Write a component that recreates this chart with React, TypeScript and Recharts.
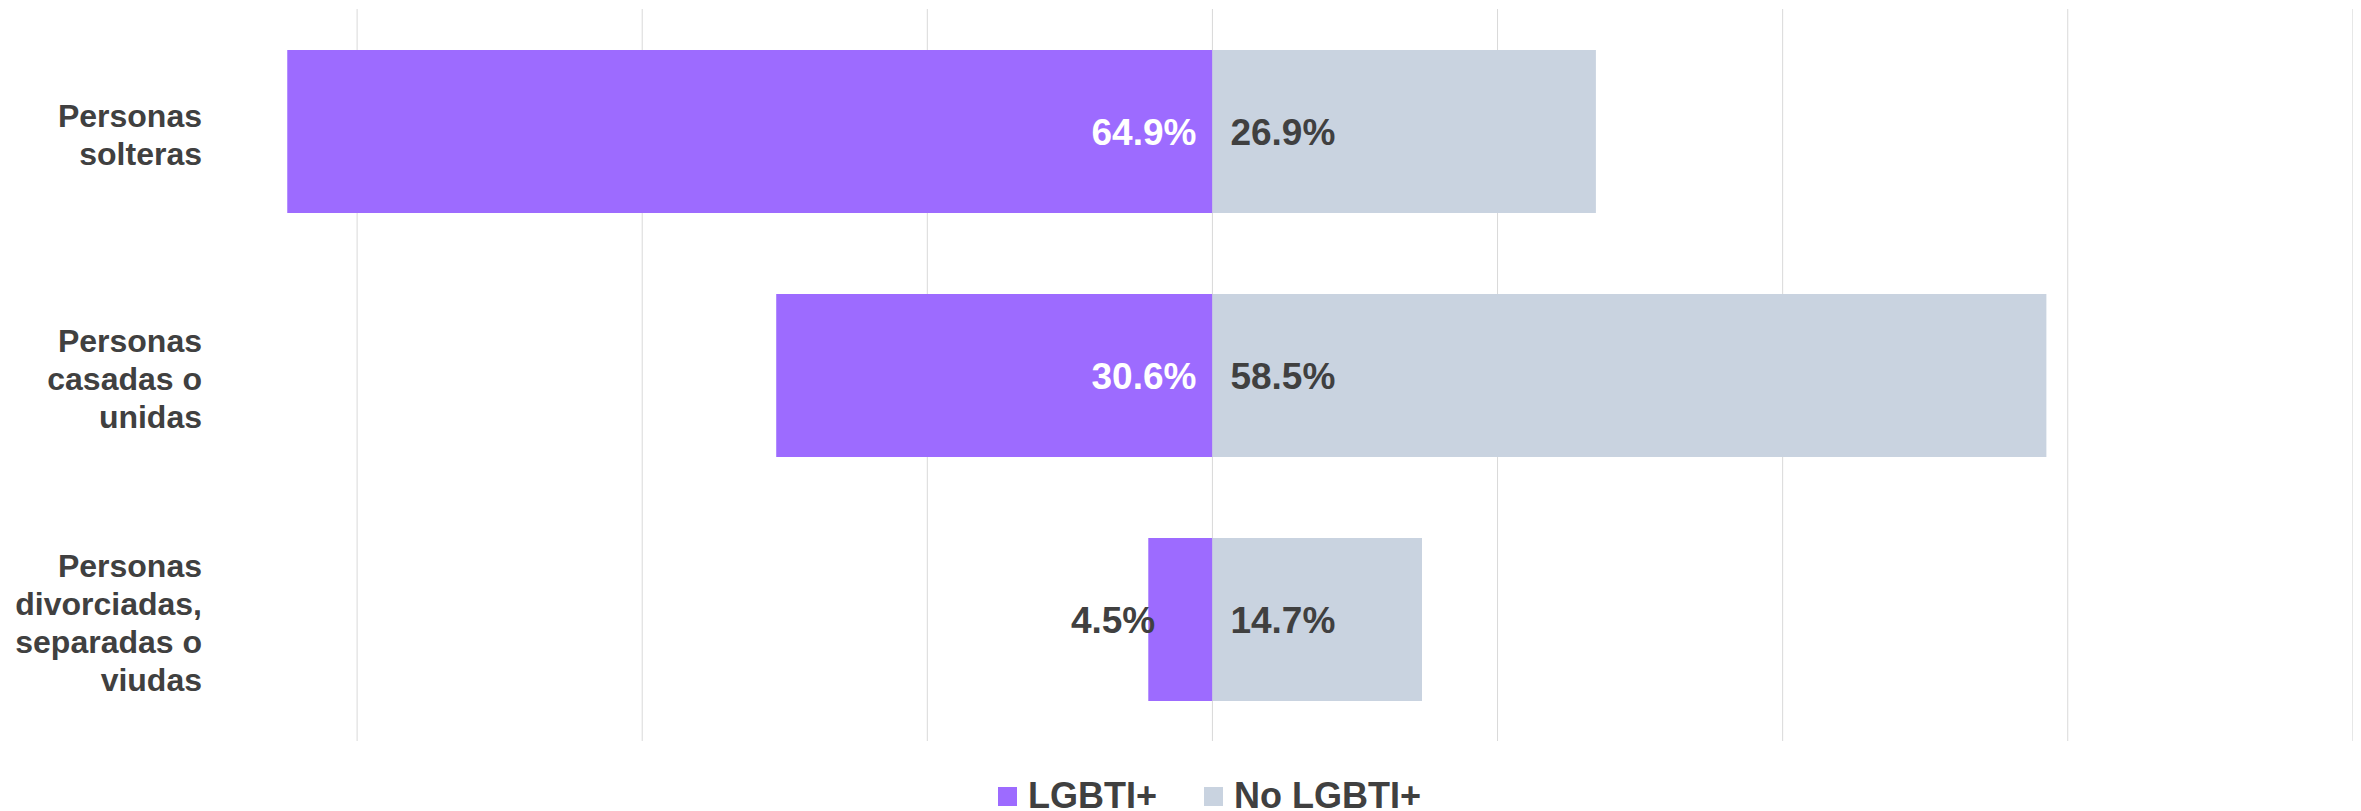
import { Bar, BarChart, CartesianGrid, LabelList, Legend, XAxis, YAxis } from 'recharts'

const categories = ['Personas\nsolteras', 'Personas\ncasadas o\nunidas', 'Personas\ndivorciadas,\nseparadas o\nviudas']
const lgbti = [64.9, 30.6, 4.5]
const noLgbti = [26.9, 58.5, 14.7]
const xTicks = [-60, -40, -20, 0, 20, 40, 60, 80]

const PURPLE = '#9D6BFF'
const GREY = '#C9D3E0'
const TEXT = '#404040'
const FONT = '"Liberation Sans", Arial, sans-serif'

// LGBTI+ goes to the left of zero, so store it negative in the table
const data = categories.map((name, i) => ({ name, lgbti: -lgbti[i], noLgbti: noLgbti[i] }))

const CategoryTick = (props: any) => {
  const { x, y, payload } = props
  const lines = String(payload.value).split('\n')
  const first = y - (lines.length - 1) * 19 + 15
  return (
    <text x={x + 130} y={first} textAnchor="end" fill={TEXT} fontFamily={FONT} fontWeight="bold" fontSize={32}>
      {lines.map((l, i) => (
        <tspan key={i} x={x + 130} y={first + i * 38}>{l}</tspan>
      ))}
    </text>
  )
}

const LgbtiLabel = (props: any) => {
  const { x, y, width, height, value } = props
  const left = Math.min(x, x + width)
  const right = Math.max(x, x + width)
  const inside = right - left > 120
  return (
    <text
      x={inside ? right - 16 : left + 7}
      y={y + height / 2 + 13}
      textAnchor="end"
      fill={inside ? '#ffffff' : TEXT}
      fontFamily={FONT}
      fontWeight="bold"
      fontSize={37}
    >
      {`${Math.abs(value).toFixed(1)}%`}
    </text>
  )
}

const NoLgbtiLabel = (props: any) => {
  const { x, y, width, height, value } = props
  const left = Math.min(x, x + width)
  return (
    <text x={left + 18} y={y + height / 2 + 13} textAnchor="start" fill={TEXT} fontFamily={FONT} fontWeight="bold" fontSize={37}>
      {`${Number(value).toFixed(1)}%`}
    </text>
  )
}

const LegendContent = (props: any) => {
  const items = props.payload || []
  return (
    <div
      style={{
        height: 78,
        paddingTop: 32,
        boxSizing: 'border-box',
        display: 'flex',
        justifyContent: 'center',
        alignItems: 'center',
        gap: 47,
        fontFamily: FONT,
        fontWeight: 'bold',
        fontSize: 36,
        color: TEXT,
        lineHeight: '30px',
      }}
    >
      {items.map((it: any) => (
        <div key={it.value} style={{ display: 'flex', alignItems: 'center', gap: 11 }}>
          <span style={{ width: 19, height: 19, background: it.color, display: 'inline-block' }} />
          <span>{it.value}</span>
        </div>
      ))}
    </div>
  )
}

const gridLines = (props: any) => {
  const { xAxis, offset } = props
  if (xAxis && typeof xAxis.scale === 'function') return xTicks.map((t) => xAxis.scale(t))
  return xTicks.map((t) => offset.left + ((t + 80) / 160.5) * offset.width)
}

const App = () => {
  return (
    <div style={{ width: 2352, height: 811 }}>
      <BarChart
        width={2352}
        height={811}
        data={data}
        layout="vertical"
        stackOffset="sign"
        margin={{ top: 1, right: 0, left: 0, bottom: 0 }}
      >
        <CartesianGrid horizontal={false} stroke="#D9D9D9" strokeWidth={1} verticalCoordinatesGenerator={gridLines} />
        <XAxis type="number" domain={[-80, 80.5]} ticks={xTicks} allowDataOverflow hide />
        <YAxis
          type="category"
          dataKey="name"
          width={64}
          tickLine={false}
          axisLine={false}
          tickSize={0}
          tickMargin={0}
          interval={0}
          tick={CategoryTick}
        />
        <Legend verticalAlign="bottom" content={LegendContent} wrapperStyle={{ left: 64, width: 2275 }} />
        <Bar dataKey="lgbti" name="LGBTI+" stackId="a" fill={PURPLE} barSize={163} isAnimationActive={false}>
          <LabelList dataKey="lgbti" content={LgbtiLabel} />
        </Bar>
        <Bar dataKey="noLgbti" name="No LGBTI+" stackId="a" fill={GREY} barSize={163} isAnimationActive={false}>
          <LabelList dataKey="noLgbti" content={NoLgbtiLabel} />
        </Bar>
      </BarChart>
    </div>
  )
}

export default App
